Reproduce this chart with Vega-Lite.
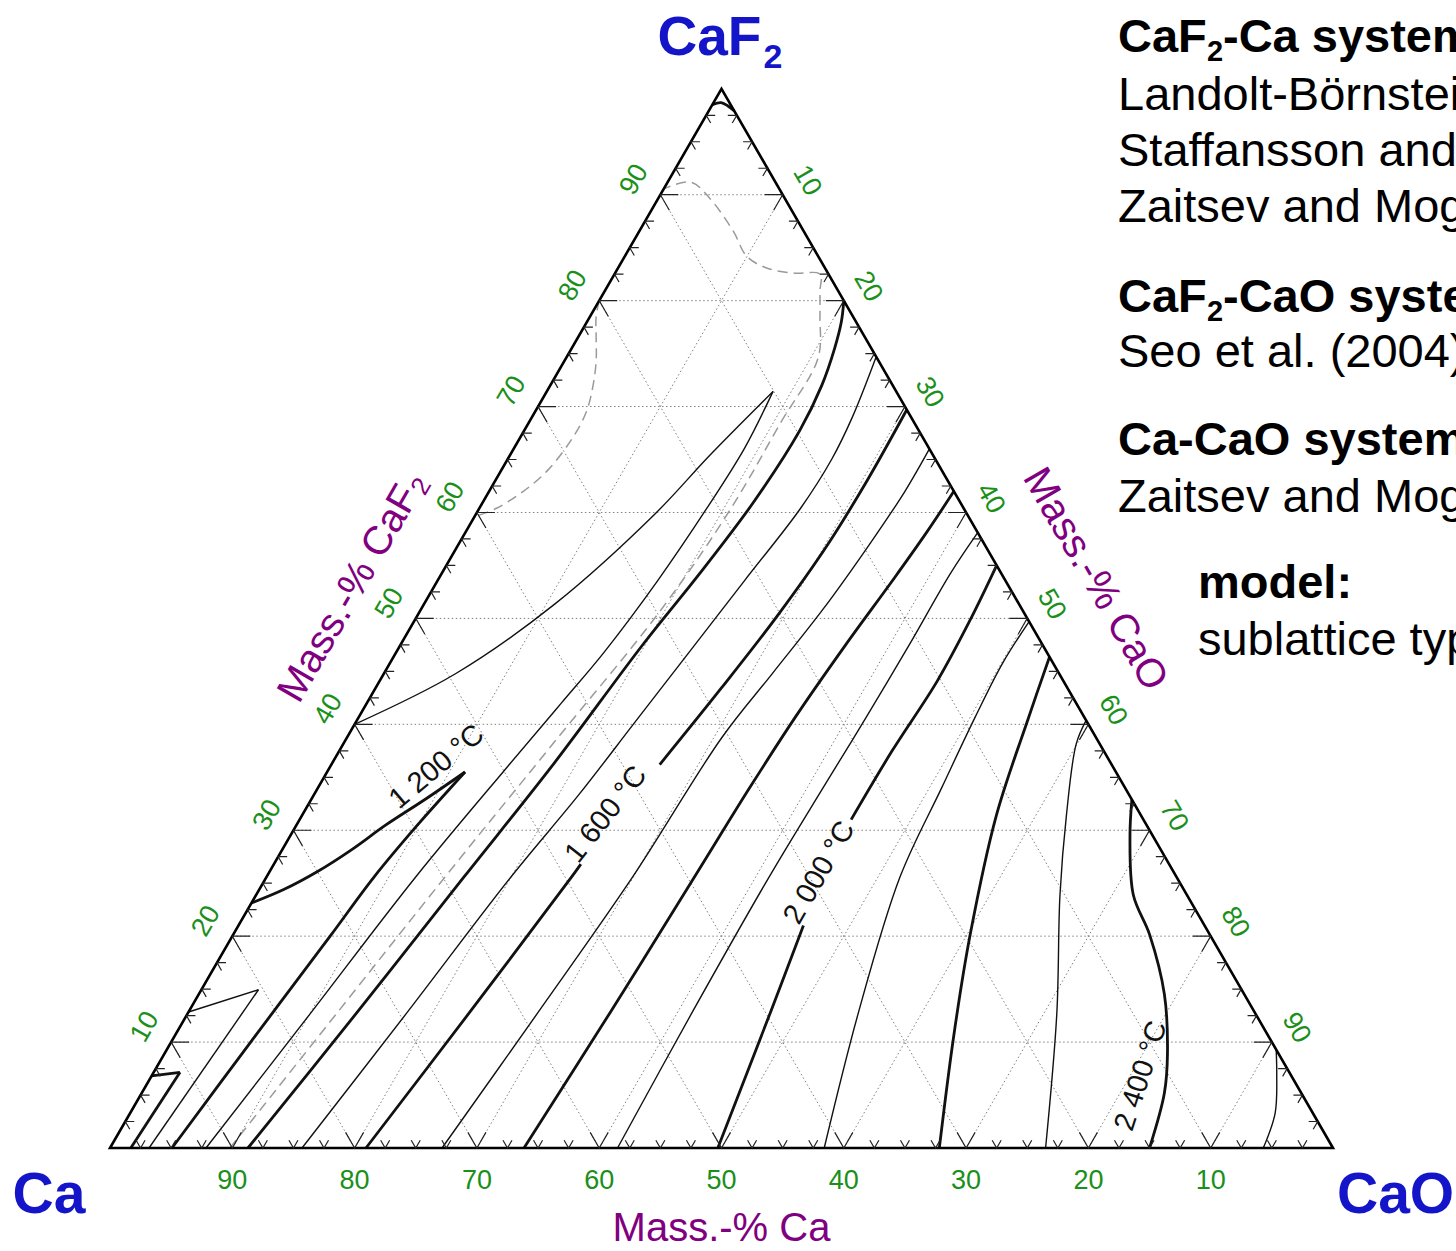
{
  "$schema": "https://vega.github.io/schema/vega-lite/v6.json",
  "width": 1223,
  "height": 1059.2,
  "autosize": {"type": "none"},
  "padding": {"left": 110, "top": 88.8, "right": 123, "bottom": 103},
  "background": "white",
  "config": {"view": {"stroke": null}, "text": {"font": "Liberation Sans"}},
  "datasets": {
    "iso": [
      {"seg": "1000a", "T": 1000, "cao": [1.7, 2.15], "caf2": [0, 7.15]},
      {"seg": "1000b", "T": 1000, "cao": [0, 2.15], "caf2": [6.8, 7.15]},
      {"seg": "1100a", "T": 1100, "cao": [3.19, 4.67], "caf2": [0, 14.94]},
      {"seg": "1100b", "T": 1100, "cao": [0, 4.67], "caf2": [12.84, 14.94]},
      {"seg": "1200a", "T": 1200, "cao": [5.07, 6.5, 8.0, 8.8, 9.9, 11.28], "caf2": [0, 10, 20, 25.6, 30.5, 35.5]},
      {"seg": "1200b", "T": 1200, "cao": [0, 2.0, 3.94, 5.7, 7.31, 9.3, 11.28], "caf2": [23.13, 24.4, 26.13, 28.2, 30.5, 32.9, 35.5]},
      {"seg": "1300a", "T": 1300, "cao": [7.85, 10.0, 12.2, 14.5, 15.9, 17.0, 18.0, 18.6, 18.85, 18.5], "caf2": [0, 12.5, 25.59, 36, 42, 46.82, 53.57, 60.33, 66.08, 71.43]},
      {"seg": "1300b", "T": 1300, "cao": [0, 5.84, 10.7, 14.63, 16.35, 18.5], "caf2": [40, 44.75, 51.37, 59.86, 65.43, 71.43]},
      {"seg": "1400top", "T": 1400, "cao": [0, 0.6, 1.3, 2.1], "caf2": [98.5, 98.7, 98.4, 97.9]},
      {"seg": "1400", "T": 1400, "cao": [11.28, 13.8, 16.15, 18.1, 19.8, 21.1, 22.14, 22.53, 22.2, 21.5, 20.8, 20], "caf2": [0, 12.8, 25.59, 36, 47.49, 54.25, 61.01, 67.77, 72, 75.5, 78, 80]},
      {"seg": "1500", "T": 1500, "cao": [15.7, 17.9, 19.99, 21.65, 22.8, 23.95, 25.1, 26.26, 26.5, 26.2, 25.3], "caf2": [0, 12.8, 25.59, 33.31, 40.06, 46.82, 53.57, 60.33, 65, 69, 74.7]},
      {"seg": "1600a", "T": 1600, "cao": [20.93, 23.0, 24.95, 25.1], "caf2": [0, 12.8, 25.59, 26.8]},
      {"seg": "1600b", "T": 1600, "cao": [26.85, 28.28, 29.44, 30.2, 30.4, 30.3], "caf2": [36.2, 43.43, 50.19, 56.95, 63, 69.7]},
      {"seg": "1700", "T": 1700, "cao": [27.15, 28.6, 29.94, 30.65, 31.76, 32.87, 33.6, 34.0, 34.0], "caf2": [0, 12.8, 25.59, 38.71, 44.79, 50.87, 56.95, 62, 66]},
      {"seg": "1800", "T": 1800, "cao": [33.85, 34.5, 35.0, 35.3, 35.7, 36.4, 37.2, 37.7, 38], "caf2": [0, 12.8, 25.6, 34, 40.7, 47.5, 53.6, 58, 62]},
      {"seg": "1900", "T": 1900, "cao": [41.5, 41.2, 41.1, 41.3, 41.5, 41.6, 41.6, 41.9], "caf2": [0, 12.8, 25.6, 34, 40.7, 47.5, 54.3, 58.1]},
      {"seg": "2000a", "T": 2000, "cao": [49.7, 47.6, 46.2], "caf2": [0, 12.8, 21]},
      {"seg": "2000b", "T": 2000, "cao": [45.1, 45.2, 45.6, 45.4, 45.0], "caf2": [31, 37.4, 44.1, 50, 55]},
      {"seg": "2100", "T": 2100, "cao": [58.4, 54.8, 51.8, 51.0, 50.4, 50.1, 50.3], "caf2": [0, 12.8, 25.6, 34, 40.7, 45.8, 49.7]},
      {"seg": "2200", "T": 2200, "cao": [67.81, 63.62, 60.26, 56.78, 54.77, 53.64], "caf2": [0, 10.79, 20.15, 31.38, 40.74, 46.36]},
      {"seg": "2300", "T": 2300, "cao": [76.5, 71.09, 65.73, 62.51, 59.93, 59.63], "caf2": [0, 12.65, 23.89, 31.38, 38.15, 40.37]},
      {"seg": "2400", "T": 2400, "cao": [85.0, 83.63, 82.01, 78.94, 74.93, 71.73, 68.64, 67.11], "caf2": [0, 5.16, 8.91, 14.54, 20.15, 23.89, 29.52, 32.89]},
      {"seg": "2500", "T": 2500, "cao": [94.3, 93.62, 91.88, 90.71], "caf2": [0, 3.3, 7.04, 9.29]}
    ],
    "bounds": [
      {"seg": "d1", "cao": [9.81, 12.2, 14.6, 17.1, 19.66, 20.58, 20.6, 20.6, 18.8, 17.62, 16.8, 14.68, 12.22, 9.99, 7.71, 4.2, 1.92, 0], "caf2": [0, 12.8, 25.59, 38, 50.87, 60.34, 68.5, 74.6, 78.5, 80.86, 82.5, 82.59, 83.06, 84.17, 86.53, 89.67, 91.18, 90.55]},
      {"seg": "d2", "cao": [0, 0.5, 1.5, 2.6, 3.5, 4.2, 4.3, 3.8, 2.8, 1.4, 0], "caf2": [80, 78.5, 76.5, 74.3, 72, 69.5, 67, 64, 62, 60.4, 59.6]}
    ],
    "frame": [
      {"seg": "f", "cao": [0, 100, 0, 0, 100], "caf2": [0, 0, 100, 0, 0]}
    ],
    "grid": [
      {"cao1": 0, "caf21": 10, "cao2": 90, "caf22": 10},
      {"cao1": 0, "caf21": 20, "cao2": 80, "caf22": 20},
      {"cao1": 0, "caf21": 30, "cao2": 70, "caf22": 30},
      {"cao1": 0, "caf21": 40, "cao2": 60, "caf22": 40},
      {"cao1": 0, "caf21": 50, "cao2": 50, "caf22": 50},
      {"cao1": 0, "caf21": 60, "cao2": 40, "caf22": 60},
      {"cao1": 0, "caf21": 70, "cao2": 30, "caf22": 70},
      {"cao1": 0, "caf21": 80, "cao2": 20, "caf22": 80},
      {"cao1": 0, "caf21": 90, "cao2": 10, "caf22": 90},
      {"cao1": 10, "caf21": 0, "cao2": 10, "caf22": 90},
      {"cao1": 20, "caf21": 0, "cao2": 20, "caf22": 80},
      {"cao1": 30, "caf21": 0, "cao2": 30, "caf22": 70},
      {"cao1": 40, "caf21": 0, "cao2": 40, "caf22": 60},
      {"cao1": 50, "caf21": 0, "cao2": 50, "caf22": 50},
      {"cao1": 60, "caf21": 0, "cao2": 60, "caf22": 40},
      {"cao1": 70, "caf21": 0, "cao2": 70, "caf22": 30},
      {"cao1": 80, "caf21": 0, "cao2": 80, "caf22": 20},
      {"cao1": 90, "caf21": 0, "cao2": 90, "caf22": 10},
      {"cao1": 90, "caf21": 0, "cao2": 0, "caf22": 90},
      {"cao1": 80, "caf21": 0, "cao2": 0, "caf22": 80},
      {"cao1": 70, "caf21": 0, "cao2": 0, "caf22": 70},
      {"cao1": 60, "caf21": 0, "cao2": 0, "caf22": 60},
      {"cao1": 50, "caf21": 0, "cao2": 0, "caf22": 50},
      {"cao1": 40, "caf21": 0, "cao2": 0, "caf22": 40},
      {"cao1": 30, "caf21": 0, "cao2": 0, "caf22": 30},
      {"cao1": 20, "caf21": 0, "cao2": 0, "caf22": 20},
      {"cao1": 10, "caf21": 0, "cao2": 0, "caf22": 10}
    ],
    "ticks": [
      {"edge": "b", "v": [2.5, 5, 7.5, 10, 12.5, 15, 17.5, 20, 22.5, 25, 27.5, 30, 32.5, 35, 37.5, 40, 42.5, 45, 47.5, 50, 52.5, 55, 57.5, 60, 62.5, 65, 67.5, 70, 72.5, 75, 77.5, 80, 82.5, 85, 87.5, 90, 92.5, 95, 97.5]},
      {"edge": "l", "v": [2.5, 5, 7.5, 10, 12.5, 15, 17.5, 20, 22.5, 25, 27.5, 30, 32.5, 35, 37.5, 40, 42.5, 45, 47.5, 50, 52.5, 55, 57.5, 60, 62.5, 65, 67.5, 70, 72.5, 75, 77.5, 80, 82.5, 85, 87.5, 90, 92.5, 95, 97.5]},
      {"edge": "r", "v": [2.5, 5, 7.5, 10, 12.5, 15, 17.5, 20, 22.5, 25, 27.5, 30, 32.5, 35, 37.5, 40, 42.5, 45, 47.5, 50, 52.5, 55, 57.5, 60, 62.5, 65, 67.5, 70, 72.5, 75, 77.5, 80, 82.5, 85, 87.5, 90, 92.5, 95, 97.5]}
    ],
    "tlab": [
      {"edge": "b", "v": [90, 80, 70, 60, 50, 40, 30, 20, 10]},
      {"edge": "l", "v": [10, 20, 30, 40, 50, 60, 70, 80, 90]},
      {"edge": "r", "v": [10, 20, 30, 40, 50, 60, 70, 80, 90]}
    ],
    "isolab": [
      {"T": 1200, "label": "1 200 °C", "cao": 8.7, "caf2": 36.0},
      {"T": 1600, "label": "1 600 °C", "cao": 24.8, "caf2": 31.5},
      {"T": 2000, "label": "2 000 °C", "cao": 45.0, "caf2": 26.0},
      {"T": 2400, "label": "2 400 °C", "cao": 80.9, "caf2": 6.8}
    ]
  },
  "layer": [
    {
      "data": {"name": "grid"},
      "transform": [
        {"calculate": "datum.cao1 + datum.caf21/2", "as": "X"},
        {"calculate": "datum.caf21*sqrt(3)/2", "as": "Y"},
        {"calculate": "datum.cao2 + datum.caf22/2", "as": "X2"},
        {"calculate": "datum.caf22*sqrt(3)/2", "as": "Y2"}
      ],
      "mark": {"type": "rule", "color": "#808080", "strokeWidth": 1, "strokeDash": [1.5, 2.5]},
      "encoding": {
        "x": {"field": "X", "type": "quantitative", "scale": {"domain": [0, 100], "nice": false, "zero": false}, "axis": null},
        "y": {"field": "Y", "type": "quantitative", "scale": {"domain": [0, 86.6025], "nice": false, "zero": false}, "axis": null},
        "x2": {"field": "X2"},
        "y2": {"field": "Y2"}
      }
    },
    {
      "data": {"name": "bounds"},
      "transform": [
        {"flatten": ["cao", "caf2"]},
        {"window": [{"op": "row_number", "as": "i"}]},
        {"calculate": "datum.cao + datum.caf2/2", "as": "X"},
        {"calculate": "datum.caf2*sqrt(3)/2", "as": "Y"}
      ],
      "mark": {"type": "line", "color": "#9a9a9a", "strokeWidth": 1.5, "strokeDash": [10, 6], "interpolate": "catmull-rom"},
      "encoding": {
        "x": {"field": "X", "type": "quantitative", "scale": {"domain": [0, 100], "nice": false, "zero": false}, "axis": null},
        "y": {"field": "Y", "type": "quantitative", "scale": {"domain": [0, 86.6025], "nice": false, "zero": false}, "axis": null},
        "detail": {"field": "seg"},
        "order": {"field": "i", "type": "quantitative"}
      }
    },
    {
      "data": {"name": "iso"},
      "transform": [
        {"flatten": ["cao", "caf2"]},
        {"window": [{"op": "row_number", "as": "i"}]},
        {"calculate": "datum.cao + datum.caf2/2", "as": "X"},
        {"calculate": "datum.caf2*sqrt(3)/2", "as": "Y"}
      ],
      "mark": {"type": "line", "color": "#111111", "interpolate": "catmull-rom"},
      "encoding": {
        "x": {"field": "X", "type": "quantitative", "scale": {"domain": [0, 100], "nice": false, "zero": false}, "axis": null},
        "y": {"field": "Y", "type": "quantitative", "scale": {"domain": [0, 86.6025], "nice": false, "zero": false}, "axis": null},
        "detail": {"field": "seg"},
        "order": {"field": "i", "type": "quantitative"},
        "strokeWidth": {"condition": {"test": "datum.T % 200 === 0", "value": 2.8}, "value": 1.4}
      }
    },
    {
      "data": {"name": "frame"},
      "transform": [
        {"flatten": ["cao", "caf2"]},
        {"window": [{"op": "row_number", "as": "i"}]},
        {"calculate": "datum.cao + datum.caf2/2", "as": "X"},
        {"calculate": "datum.caf2*sqrt(3)/2", "as": "Y"}
      ],
      "mark": {"type": "line", "color": "#000000", "strokeWidth": 2.6, "strokeJoin": "miter"},
      "encoding": {
        "x": {"field": "X", "type": "quantitative", "scale": {"domain": [0, 100], "nice": false, "zero": false}, "axis": null},
        "y": {"field": "Y", "type": "quantitative", "scale": {"domain": [0, 86.6025], "nice": false, "zero": false}, "axis": null},
        "detail": {"field": "seg"},
        "order": {"field": "i", "type": "quantitative"}
      }
    },
    {
      "data": {"name": "ticks"},
      "transform": [
        {"flatten": ["v"]},
        {"calculate": "datum.edge==='b' ? datum.v : (datum.edge==='l' ? 0 : 100-datum.v)", "as": "cao"},
        {"calculate": "datum.edge==='b' ? 0 : datum.v", "as": "caf2"},
        {"calculate": "datum.cao + datum.caf2/2", "as": "X"},
        {"calculate": "datum.caf2*sqrt(3)/2", "as": "Y"}
      ],
      "mark": {"type": "point", "shape": "M-0.5,-0.866L0,0L0.5,-0.866", "filled": false, "opacity": 1, "color": "#222222", "strokeWidth": 1.2},
      "encoding": {
        "x": {"field": "X", "type": "quantitative", "scale": {"domain": [0, 100], "nice": false, "zero": false}, "axis": null},
        "y": {"field": "Y", "type": "quantitative", "scale": {"domain": [0, 86.6025], "nice": false, "zero": false}, "axis": null},
        "size": {"condition": {"test": "datum.v % 10 === 0", "value": 1296}, "value": 324},
        "angle": {"condition": [{"test": "datum.edge==='l'", "value": 120}, {"test": "datum.edge==='r'", "value": 240}], "value": 0}
      }
    },
    {
      "data": {"name": "tlab"},
      "transform": [
        {"flatten": ["v"]},
        {"filter": "datum.edge==='b'"},
        {"calculate": "100-datum.v", "as": "X"},
        {"calculate": "0", "as": "Y"}
      ],
      "mark": {"type": "text", "align": "center", "baseline": "middle", "dy": 33, "fontSize": 27, "color": "#1a8f1a"},
      "encoding": {
        "x": {"field": "X", "type": "quantitative", "scale": {"domain": [0, 100], "nice": false, "zero": false}, "axis": null},
        "y": {"field": "Y", "type": "quantitative", "scale": {"domain": [0, 86.6025], "nice": false, "zero": false}, "axis": null},
        "text": {"field": "v"}
      }
    },
    {
      "data": {"name": "tlab"},
      "transform": [
        {"flatten": ["v"]},
        {"filter": "datum.edge==='l'"},
        {"calculate": "datum.v/2", "as": "X"},
        {"calculate": "datum.v*sqrt(3)/2", "as": "Y"}
      ],
      "mark": {"type": "text", "align": "center", "baseline": "middle", "dy": -30, "angle": 300, "fontSize": 27, "color": "#1a8f1a"},
      "encoding": {
        "x": {"field": "X", "type": "quantitative", "scale": {"domain": [0, 100], "nice": false, "zero": false}, "axis": null},
        "y": {"field": "Y", "type": "quantitative", "scale": {"domain": [0, 86.6025], "nice": false, "zero": false}, "axis": null},
        "text": {"field": "v"}
      }
    },
    {
      "data": {"name": "tlab"},
      "transform": [
        {"flatten": ["v"]},
        {"filter": "datum.edge==='r'"},
        {"calculate": "datum.v + (100-datum.v)/2", "as": "X"},
        {"calculate": "(100-datum.v)*sqrt(3)/2", "as": "Y"}
      ],
      "mark": {"type": "text", "align": "center", "baseline": "middle", "dy": -28, "angle": 60, "fontSize": 27, "color": "#1a8f1a"},
      "encoding": {
        "x": {"field": "X", "type": "quantitative", "scale": {"domain": [0, 100], "nice": false, "zero": false}, "axis": null},
        "y": {"field": "Y", "type": "quantitative", "scale": {"domain": [0, 86.6025], "nice": false, "zero": false}, "axis": null},
        "text": {"field": "v"}
      }
    },
    {
      "data": {"name": "isolab"},
      "transform": [
        {"calculate": "datum.cao + datum.caf2/2", "as": "X"},
        {"calculate": "datum.caf2*sqrt(3)/2", "as": "Y"}
      ],
      "mark": {"type": "text", "align": "center", "baseline": "middle", "fontSize": 29, "color": "#111111"},
      "encoding": {
        "x": {"field": "X", "type": "quantitative", "scale": {"domain": [0, 100], "nice": false, "zero": false}, "axis": null},
        "y": {"field": "Y", "type": "quantitative", "scale": {"domain": [0, 86.6025], "nice": false, "zero": false}, "axis": null},
        "text": {"field": "label"},
        "angle": {"condition": [{"test": "datum.T===1200", "value": 320}, {"test": "datum.T===1600", "value": 308}, {"test": "datum.T===2000", "value": 300}], "value": 288}
      }
    },
    {
      "data": {"values": [{}]},
      "mark": {"type": "text", "align": "center", "baseline": "middle", "dy": 81, "fontSize": 40, "color": "#800080"},
      "encoding": {
        "x": {"datum": 50, "type": "quantitative", "scale": {"domain": [0, 100], "nice": false, "zero": false}, "axis": null},
        "y": {"datum": 0, "type": "quantitative", "scale": {"domain": [0, 86.6025], "nice": false, "zero": false}, "axis": null},
        "text": {"value": "Mass.-% Ca"}
      }
    },
    {
      "data": {"values": [{}]},
      "mark": {"type": "text", "align": "left", "baseline": "middle", "dx": -127, "dy": -70, "angle": 300, "fontSize": 40, "color": "#800080"},
      "encoding": {
        "x": {"datum": 24.75, "type": "quantitative", "scale": {"domain": [0, 100], "nice": false, "zero": false}, "axis": null},
        "y": {"datum": 42.87, "type": "quantitative", "scale": {"domain": [0, 86.6025], "nice": false, "zero": false}, "axis": null},
        "text": {"value": "Mass.-% CaF"}
      }
    },
    {
      "data": {"values": [{}]},
      "mark": {"type": "text", "align": "left", "baseline": "middle", "dx": 116, "dy": -61, "angle": 300, "fontSize": 26, "color": "#800080"},
      "encoding": {
        "x": {"datum": 24.75, "type": "quantitative", "scale": {"domain": [0, 100], "nice": false, "zero": false}, "axis": null},
        "y": {"datum": 42.87, "type": "quantitative", "scale": {"domain": [0, 86.6025], "nice": false, "zero": false}, "axis": null},
        "text": {"value": "2"}
      }
    },
    {
      "data": {"values": [{}]},
      "mark": {"type": "text", "align": "center", "baseline": "middle", "dy": -78, "angle": 60, "fontSize": 40, "color": "#800080"},
      "encoding": {
        "x": {"datum": 75, "type": "quantitative", "scale": {"domain": [0, 100], "nice": false, "zero": false}, "axis": null},
        "y": {"datum": 43.3, "type": "quantitative", "scale": {"domain": [0, 86.6025], "nice": false, "zero": false}, "axis": null},
        "text": {"value": "Mass.-% CaO"}
      }
    },
    {
      "data": {"values": [{}]},
      "mark": {"type": "text", "align": "center", "baseline": "alphabetic", "dx": -61, "dy": 65, "fontSize": 57, "fontWeight": "bold", "color": "#1414c8"},
      "encoding": {
        "x": {"datum": 0, "type": "quantitative", "scale": {"domain": [0, 100], "nice": false, "zero": false}, "axis": null},
        "y": {"datum": 0, "type": "quantitative", "scale": {"domain": [0, 86.6025], "nice": false, "zero": false}, "axis": null},
        "text": {"value": "Ca"}
      }
    },
    {
      "data": {"values": [{}]},
      "mark": {"type": "text", "align": "left", "baseline": "alphabetic", "dx": 4, "dy": 65, "fontSize": 57, "fontWeight": "bold", "color": "#1414c8"},
      "encoding": {
        "x": {"datum": 100, "type": "quantitative", "scale": {"domain": [0, 100], "nice": false, "zero": false}, "axis": null},
        "y": {"datum": 0, "type": "quantitative", "scale": {"domain": [0, 86.6025], "nice": false, "zero": false}, "axis": null},
        "text": {"value": "CaO"}
      }
    },
    {
      "data": {"values": [{}]},
      "mark": {"type": "text", "align": "left", "baseline": "alphabetic", "dx": -64, "dy": -34, "fontSize": 55, "fontWeight": "bold", "color": "#1414c8"},
      "encoding": {
        "x": {"datum": 50, "type": "quantitative", "scale": {"domain": [0, 100], "nice": false, "zero": false}, "axis": null},
        "y": {"datum": 86.6025, "type": "quantitative", "scale": {"domain": [0, 86.6025], "nice": false, "zero": false}, "axis": null},
        "text": {"value": "CaF"}
      }
    },
    {
      "data": {"values": [{}]},
      "mark": {"type": "text", "align": "left", "baseline": "alphabetic", "dx": 42, "dy": -21, "fontSize": 34, "fontWeight": "bold", "color": "#1414c8"},
      "encoding": {
        "x": {"datum": 50, "type": "quantitative", "scale": {"domain": [0, 100], "nice": false, "zero": false}, "axis": null},
        "y": {"datum": 86.6025, "type": "quantitative", "scale": {"domain": [0, 86.6025], "nice": false, "zero": false}, "axis": null},
        "text": {"value": "2"}
      }
    },
    {
      "data": {"values": [{}]},
      "mark": {"type": "text", "align": "left", "baseline": "alphabetic", "fontSize": 47, "fontWeight": "bold", "color": "#000000"},
      "encoding": {
        "x": {"datum": 82.42, "type": "quantitative", "scale": {"domain": [0, 100], "nice": false, "zero": false}, "axis": null},
        "y": {"datum": 89.62, "type": "quantitative", "scale": {"domain": [0, 86.6025], "nice": false, "zero": false}, "axis": null},
        "text": {"value": "CaF"}
      }
    },
    {
      "data": {"values": [{}]},
      "mark": {"type": "text", "align": "left", "baseline": "alphabetic", "dx": 89, "dy": 9, "fontSize": 29, "fontWeight": "bold", "color": "#000000"},
      "encoding": {
        "x": {"datum": 82.42, "type": "quantitative", "scale": {"domain": [0, 100], "nice": false, "zero": false}, "axis": null},
        "y": {"datum": 89.62, "type": "quantitative", "scale": {"domain": [0, 86.6025], "nice": false, "zero": false}, "axis": null},
        "text": {"value": "2"}
      }
    },
    {
      "data": {"values": [{}]},
      "mark": {"type": "text", "align": "left", "baseline": "alphabetic", "dx": 105, "fontSize": 47, "fontWeight": "bold", "color": "#000000"},
      "encoding": {
        "x": {"datum": 82.42, "type": "quantitative", "scale": {"domain": [0, 100], "nice": false, "zero": false}, "axis": null},
        "y": {"datum": 89.62, "type": "quantitative", "scale": {"domain": [0, 86.6025], "nice": false, "zero": false}, "axis": null},
        "text": {"value": "-Ca system:"}
      }
    },
    {
      "data": {"values": [{}]},
      "mark": {"type": "text", "align": "left", "baseline": "alphabetic", "fontSize": 47, "lineHeight": 56, "color": "#000000"},
      "encoding": {
        "x": {"datum": 82.42, "type": "quantitative", "scale": {"domain": [0, 100], "nice": false, "zero": false}, "axis": null},
        "y": {"datum": 84.87, "type": "quantitative", "scale": {"domain": [0, 86.6025], "nice": false, "zero": false}, "axis": null},
        "text": {"value": ["Landolt-Börnstein (1992)", "Staffansson and Sichen (1992)", "Zaitsev and Mogutnov (2001)"]}
      }
    },
    {
      "data": {"values": [{}]},
      "mark": {"type": "text", "align": "left", "baseline": "alphabetic", "fontSize": 47, "fontWeight": "bold", "color": "#000000"},
      "encoding": {
        "x": {"datum": 82.42, "type": "quantitative", "scale": {"domain": [0, 100], "nice": false, "zero": false}, "axis": null},
        "y": {"datum": 68.36, "type": "quantitative", "scale": {"domain": [0, 86.6025], "nice": false, "zero": false}, "axis": null},
        "text": {"value": "CaF"}
      }
    },
    {
      "data": {"values": [{}]},
      "mark": {"type": "text", "align": "left", "baseline": "alphabetic", "dx": 89, "dy": 9, "fontSize": 29, "fontWeight": "bold", "color": "#000000"},
      "encoding": {
        "x": {"datum": 82.42, "type": "quantitative", "scale": {"domain": [0, 100], "nice": false, "zero": false}, "axis": null},
        "y": {"datum": 68.36, "type": "quantitative", "scale": {"domain": [0, 86.6025], "nice": false, "zero": false}, "axis": null},
        "text": {"value": "2"}
      }
    },
    {
      "data": {"values": [{}]},
      "mark": {"type": "text", "align": "left", "baseline": "alphabetic", "dx": 105, "fontSize": 47, "fontWeight": "bold", "color": "#000000"},
      "encoding": {
        "x": {"datum": 82.42, "type": "quantitative", "scale": {"domain": [0, 100], "nice": false, "zero": false}, "axis": null},
        "y": {"datum": 68.36, "type": "quantitative", "scale": {"domain": [0, 86.6025], "nice": false, "zero": false}, "axis": null},
        "text": {"value": "-CaO system:"}
      }
    },
    {
      "data": {"values": [{}]},
      "mark": {"type": "text", "align": "left", "baseline": "alphabetic", "fontSize": 47, "color": "#000000"},
      "encoding": {
        "x": {"datum": 82.42, "type": "quantitative", "scale": {"domain": [0, 100], "nice": false, "zero": false}, "axis": null},
        "y": {"datum": 63.86, "type": "quantitative", "scale": {"domain": [0, 86.6025], "nice": false, "zero": false}, "axis": null},
        "text": {"value": "Seo et al. (2004)"}
      }
    },
    {
      "data": {"values": [{}]},
      "mark": {"type": "text", "align": "left", "baseline": "alphabetic", "fontSize": 47, "fontWeight": "bold", "color": "#000000"},
      "encoding": {
        "x": {"datum": 82.42, "type": "quantitative", "scale": {"domain": [0, 100], "nice": false, "zero": false}, "axis": null},
        "y": {"datum": 56.66, "type": "quantitative", "scale": {"domain": [0, 86.6025], "nice": false, "zero": false}, "axis": null},
        "text": {"value": "Ca-CaO system:"}
      }
    },
    {
      "data": {"values": [{}]},
      "mark": {"type": "text", "align": "left", "baseline": "alphabetic", "fontSize": 47, "color": "#000000"},
      "encoding": {
        "x": {"datum": 82.42, "type": "quantitative", "scale": {"domain": [0, 100], "nice": false, "zero": false}, "axis": null},
        "y": {"datum": 52.0, "type": "quantitative", "scale": {"domain": [0, 86.6025], "nice": false, "zero": false}, "axis": null},
        "text": {"value": "Zaitsev and Mogutnov (2001)"}
      }
    },
    {
      "data": {"values": [{}]},
      "mark": {"type": "text", "align": "left", "baseline": "alphabetic", "fontSize": 47, "fontWeight": "bold", "color": "#000000"},
      "encoding": {
        "x": {"datum": 88.96, "type": "quantitative", "scale": {"domain": [0, 100], "nice": false, "zero": false}, "axis": null},
        "y": {"datum": 44.97, "type": "quantitative", "scale": {"domain": [0, 86.6025], "nice": false, "zero": false}, "axis": null},
        "text": {"value": "model:"}
      }
    },
    {
      "data": {"values": [{}]},
      "mark": {"type": "text", "align": "left", "baseline": "alphabetic", "fontSize": 47, "color": "#000000"},
      "encoding": {
        "x": {"datum": 88.96, "type": "quantitative", "scale": {"domain": [0, 100], "nice": false, "zero": false}, "axis": null},
        "y": {"datum": 40.31, "type": "quantitative", "scale": {"domain": [0, 86.6025], "nice": false, "zero": false}, "axis": null},
        "text": {"value": "sublattice type"}
      }
    }
  ]
}
